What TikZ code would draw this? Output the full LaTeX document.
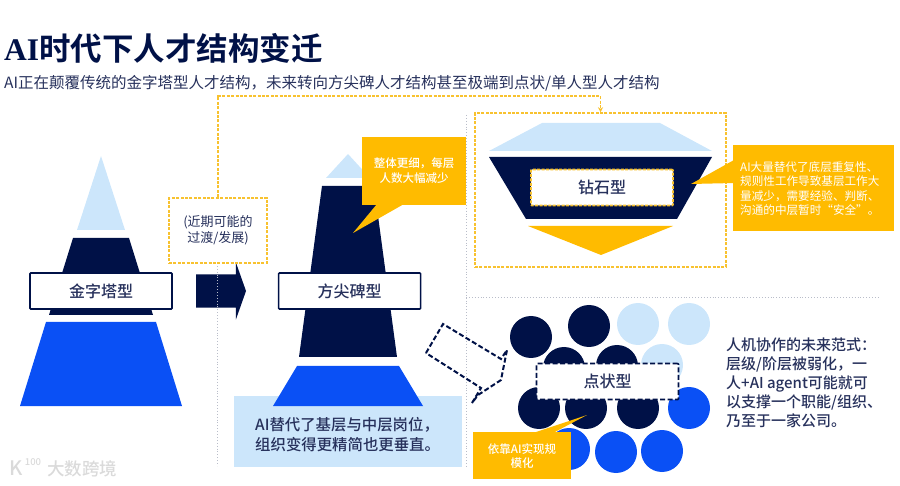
\documentclass[tikz,border=0pt]{standalone}
\usepackage{fontspec}
\setmainfont{Noto Sans CJK SC}[BoldFont={Noto Sans CJK SC Medium}]
\newfontfamily\titlecjk{Noto Sans CJK SC Bold}
\newfontfamily\titlelatin{Liberation Serif}[BoldFont={Liberation Serif Bold}]
\usetikzlibrary{positioning, arrows.meta, shapes.arrows}

\definecolor{navy}{HTML}{001147}
\definecolor{royal}{HTML}{0A50F5}
\definecolor{pale}{HTML}{CCE6FB}
\definecolor{amber}{HTML}{FFBB00}
\definecolor{dashamber}{HTML}{F8C22F}
\definecolor{inktext}{HTML}{27315C}
\definecolor{rulegray}{HTML}{B9BDC9}
\definecolor{markgray}{HTML}{DADADA}

\begin{document}
\begin{tikzpicture}[
    x=1pt, y=-1pt,
    node distance=23pt and 105pt,
    typebox/.style={
        rectangle,
        draw=navy,
        fill=white,
        line width=1.6pt,
        rounded corners=0.8pt,
        minimum width=142pt,
        minimum height=36pt,
        text=inktext,
        font=\fontsize{16}{18}\selectfont\bfseries
    },
    dashbox/.style={typebox, dashed, dash pattern=on 5pt off 2.5pt},
    notebox/.style={
        rectangle,
        fill=amber,
        inner sep=0pt,
        text=white,
        align=center,
        font=\fontsize{11.5}{14.5}\selectfont\bfseries
    },
    bodytext/.style={
        inner sep=0pt,
        text=inktext,
        align=left,
        anchor=west
    },
    amberdash/.style={draw=dashamber, line width=1.5pt, dashed, dash pattern=on 3pt off 1.4pt},
    ruleline/.style={draw=rulegray, line width=0.9pt, dotted},
    dotnode/.style={circle, inner sep=0pt, minimum size=42pt}
]

\useasboundingbox (0,0) rectangle (900,486);

% heading
\node (title) [bodytext, text=navy, font=\fontsize{31.5}{36}\selectfont] at (4,48) {{\titlelatin\bfseries AI}{\titlecjk 时代下人才结构变迁}};
\node (subtitle) [bodytext, font=\fontsize{15.5}{18}\selectfont] at (4,83) {AI正在颠覆传统的金字塔型人才结构，未来转向方尖碑人才结构甚至极端到点状/单人型人才结构};

% pyramid
\fill[pale] (101,156) -- (125,230) -- (77,230) -- cycle;
\fill[navy] (73,238) -- (129,238) -- (153,315) -- (49,315) -- cycle;
\fill[royal] (46,322) -- (156,322) -- (182,406) -- (20,406) -- cycle;
\node (pyramid) [typebox] at (101,291) {金字塔型};

% obelisk
\fill[pale] (348,154) -- (370,178) -- (326,178) -- cycle;
\fill[navy] (322,186) -- (374,186) -- (397,357) -- (299,357) -- cycle;
\node (paper) [rectangle, fill=pale, minimum width=228pt, minimum height=71pt, inner sep=0pt] at (348,431) {};
\fill[royal] (297,366) -- (399,366) -- (423,406) -- (273,406) -- cycle;
\node (obelisk) [typebox, right=of pyramid] {方尖碑型};
\node (papertext) [bodytext, font=\fontsize{15.4}{20}\selectfont\bfseries] at (255,435) {AI替代了基层与中层岗位，\\组织变得更精简也更垂直。};

\node (slimnote) [notebox, minimum width=104pt, minimum height=68pt] at (414,171) {};
\fill[amber] (377,204) -- (353,233) -- (404,204) -- cycle;
\node (slimtext) at (414,170.5) [notebox, fill=none] {整体更细，每层\\人数大幅减少};

% step arrow
\node (stepnext) [right=23pt of pyramid, single arrow, fill=navy, inner sep=0pt,
    minimum height=50pt, minimum width=57pt,
    single arrow head extend=12pt, single arrow tip angle=141] {\rule{0pt}{33pt}};

% rules
\coordinate (ruletop) at (466,115);
\coordinate (rulefoot) at (466,466);
\coordinate (rulemid) at (466,297);
\coordinate (ruleend) at (880,297);
\coordinate (leftfoot) at (217,466);

% transition and diamond
\draw[ruleline] (217,263) -- (leftfoot);
\node (transition) [rectangle, fill=white, amberdash, minimum width=98pt, minimum height=65pt,
    inner sep=0pt, text=inktext, align=center, font=\fontsize{13}{16}\selectfont] at (218,230.5) {(近期可能的\\过渡/发展)};
\node (diamondzone) [rectangle, amberdash, minimum width=251pt, minimum height=154pt] at (600.5,190) {};
\draw[ruleline] (ruletop) -- (rulefoot);
\draw[ruleline] (rulemid) -- (ruleend);

\coordinate (bendright) at (600.5,96);
\draw[amberdash, -{Stealth[length=5pt,width=5pt]}] (transition.north) |- (bendright) -- (diamondzone.north);

\fill[pale] (542,123) -- (660,123) -- (712,151) -- (489,151) -- cycle;
\fill[navy] (489,157) -- (712,157) -- (677,219) -- (526,219) -- cycle;
\fill[amber] (528,226) -- (673,226) -- (601,255) -- cycle;
\node (diamond) [typebox, draw=dashamber, line width=1.8pt, dashed, dash pattern=on 3pt off 1.4pt] at (602,187.5) {钻石型};

\node (gemnote) [notebox, minimum width=161pt, minimum height=86pt] at (813.5,188) {};
\fill[amber] (734,160) -- (691,184) -- (734,183) -- cycle;
\node (gemtext) [bodytext, text=white, font=\fontsize{11.6}{14.5}\selectfont] at (740,188.5) {AI大量替代了底层重复性、\\规则性工作导致基层工作大\\量减少，需要经验、判断、\\沟通的中层暂时“安全”。};

% dots
\foreach \name/\px/\py in {a/531/337, b/589/326, c/564/368, d/617/366, e/539/408, f/586/408, g/638/408}
    \node (navy\name) [dotnode, fill=navy] at (\px,\py) {};
\foreach \name/\px/\py in {a/638/324, b/689/324, c/662/365}
    \node (pale\name) [dotnode, fill=pale] at (\px,\py) {};
\foreach \name/\px/\py in {a/689/408, b/569/449, c/616/452, d/662/451}
    \node (royal\name) [dotnode, fill=royal] at (\px,\py) {};

\node (dots) [dashbox] at (607.5,381.5) {点状型};

\draw[navy, line width=2pt, dashed, dash pattern=on 5pt off 2.5pt]
    (426,353) -- (443,324) -- (501,359) -- (507,350) -- (501,380) -- (478,395) -- (472,403) -- (481,388) -- cycle;

\node (dotnote) [notebox, minimum width=98pt, minimum height=47pt] at (522,455.5) {};
\fill[amber] (533,433) -- (587,415) -- (553,433) -- cycle;
\node (dottext) [notebox, fill=none] at (522,456) {依靠AI实现规\\模化};

\node (futuretext) [bodytext, font=\fontsize{15}{19}\selectfont\bfseries] at (726,383) {人机协作的未来范式：\\层级/阶层被弱化，一\\人+AI agent可能就可\\以支撑一个职能/组织、\\乃至于一家公司。};

% watermark
\node (markk) [inner sep=0pt, text=markgray, font=\fontsize{20}{21}\selectfont\bfseries] at (16,468) {K};
\node (markn) [inner sep=0pt, text=markgray, font=\fontsize{9.5}{10}\selectfont\bfseries] at (33,462) {100};
\node (markname) [bodytext, text=markgray, font=\fontsize{17.5}{20}\selectfont\bfseries] at (47,469) {大数跨境};

\end{tikzpicture}
\end{document}
